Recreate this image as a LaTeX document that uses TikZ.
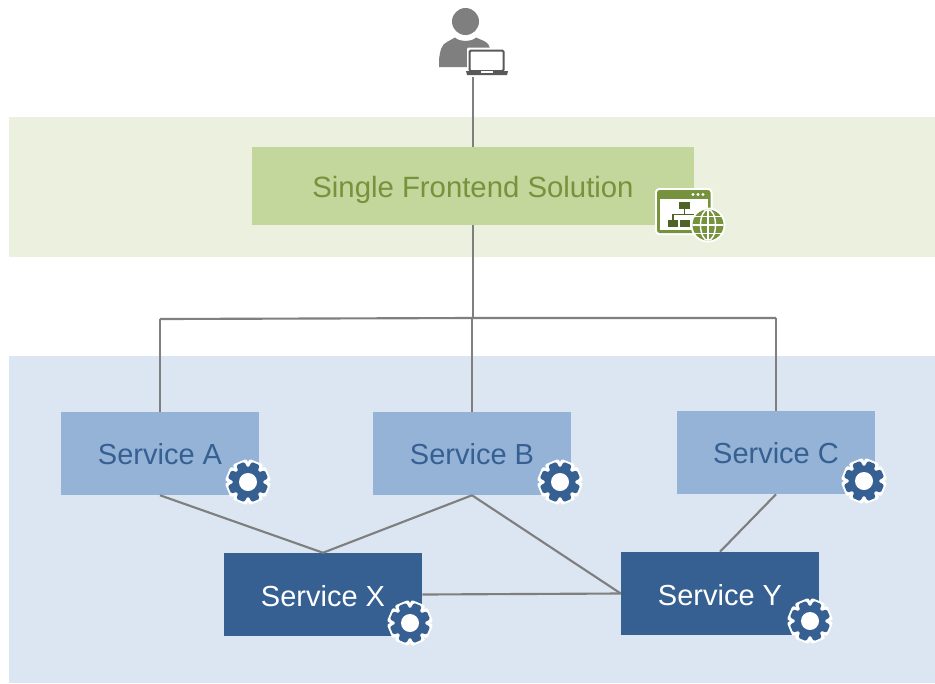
\documentclass[tikz,border=0pt]{standalone}
\usepackage{fontspec}
\setmainfont{Liberation Sans}
\definecolor{bandgreen}{HTML}{EBF1DE}
\definecolor{bandblue}{HTML}{DCE6F2}
\definecolor{frontfill}{HTML}{C3D69B}
\definecolor{fronttext}{HTML}{76923C}
\definecolor{darkgreen}{HTML}{4F6228}
\definecolor{lightsvc}{HTML}{95B3D7}
\definecolor{darksvc}{HTML}{366092}
\definecolor{wire}{HTML}{7F7F7F}
\definecolor{laptop}{HTML}{595959}
\tikzset{
  band/.style={fill=#1,draw=none},
  svc/.style={rectangle,draw=none,minimum width=148.5pt,minimum height=62.25pt,inner sep=0pt,text depth=0pt,font=\fontsize{21.75pt}{26pt}\selectfont},
  svclight/.style={svc,text height=17.1pt,fill=lightsvc,text=darksvc},
  svcdark/.style={svc,text height=17.6pt,fill=darksvc,text=white},
  frontbox/.style={rectangle,draw=none,fill=frontfill,text=fronttext,minimum width=331.5pt,minimum height=58.5pt,inner sep=0pt,text height=17.4pt,text depth=0pt,font=\fontsize{22pt}{26pt}\selectfont},
  wireline/.style={draw=wire,line width=1.6pt},
  gearpic/.pic={
    \foreach \a in {22.5,67.5,...,360}{
      \draw[white,fill=white,line width=3pt,line join=round,rotate=\a] (-5.5,-10) rectangle (5.5,-20);
    }
    \fill[white] (0,0) circle (18);
    \foreach \a in {22.5,67.5,...,360}{
      \fill[darksvc,rounded corners=1pt,rotate=\a] (-5.4,-10) -- (-4.2,-20) -- (4.2,-20) -- (5.4,-10) -- cycle;
    }
    \fill[darksvc] (0,0) circle (15.5);
    \fill[white] (0,0) circle (9);
  }
}
\begin{document}
\begin{tikzpicture}[x=0.75pt,y=-0.75pt]
\useasboundingbox (0,0) rectangle (935,683);
\fill[white] (0,0) rectangle (935,683);
\fill[band=bandgreen] (9,117) rectangle (935,257);
\fill[band=bandblue] (9,356) rectangle (935,683);

\coordinate (userfoot) at (473,77);
\coordinate (busleft) at (160,319);
\coordinate (busmid) at (473,318);
\coordinate (busright) at (776,318);

\node[frontbox] (front) at (473,186) {Single Frontend Solution};
\node[svclight] (a) at (160,453.5) {Service A};
\node[svclight] (b) at (472,453.5) {Service B};
\node[svclight] (c) at (776,452.5) {Service C};
\node[svcdark] (x) at (323,594.5) {Service X};
\node[svcdark] (y) at (720,593.5) {Service Y};

\draw[wireline] (userfoot) -- (front.north -| userfoot);
\draw[wireline,line width=2pt] (front.south) -- (busmid);
\draw[wireline] (busleft) -- (busmid) -- (busright);
\draw[wireline] (busleft) -- (a.north);
\draw[wireline] (busmid -| b.north) -- (b.north);
\draw[wireline] (busright) -- (c.north);
\draw[wireline] (a.south) -- (x.north);
\draw[wireline] (b.south) -- (x.north);
\draw[wireline] (b.south) -- (y.west);
\draw[wireline] (c.south) -- (y.north);
\draw[wireline] (x.east) -- (y.west);

\pic at (248,482) {gearpic};
\pic at (560,482) {gearpic};
\pic at (864,481) {gearpic};
\pic at (410,623) {gearpic};
\pic at (810,621) {gearpic};

% person with laptop
\fill[wire] (465.5,21.5) circle (13.5);
\fill[wire] (439,67) -- (439,60) .. controls (440,50) and (442,44) .. (447,42)
  -- (455,37.5) .. controls (459,42) and (472,42) .. (476,37.5)
  -- (484,41) .. controls (488,43) and (490,46) .. (490,50) -- (490,67) -- cycle;
\fill[white,rounded corners=1pt] (467,47.5) rectangle (506,72);
\fill[white] (464,70) rectangle (510,77);
\draw[laptop,fill=white,line width=1.5pt,rounded corners=1pt] (469.5,50.5) rectangle (503.5,71);
\fill[laptop] (466,71) -- (508,71) -- (507,75) -- (467,75) -- cycle;
\fill[white] (481,71) rectangle (493,72.5);

% window + globe icon
\fill[white,rounded corners=3pt] (655,188) rectangle (712.5,235);
\fill[fronttext,rounded corners=2pt] (657,190) rectangle (710.5,233);
\fill[white] (660,199) rectangle (707.5,230);
\foreach \dx in {698,693,703}{\fill[white] (\dx+0,194.5) circle (1.6);}
\fill[darkgreen] (679,202) rectangle (690,209);
\fill[darkgreen] (668,219.5) rectangle (678,226.5);
\fill[darkgreen] (680,219.5) rectangle (690,226.5);
\draw[darkgreen,line width=1.1pt] (684.5,209) -- (684.5,214.5) (673,219.5) -- (673,214.5) -- (696,214.5);
\fill[white] (708,225) circle (17.5);
\fill[fronttext] (708,225) circle (15.5);
\begin{scope}
\clip (708,225) circle (15.5);
\draw[white,line width=1.1pt] (692,225) -- (724,225) (692,216.5) -- (724,216.5) (692,233.5) -- (724,233.5) (708,209) -- (708,241);
\draw[white,line width=1.1pt] (708,225) ellipse (7.5 and 15.5);
\end{scope}
\end{tikzpicture}
\end{document}
